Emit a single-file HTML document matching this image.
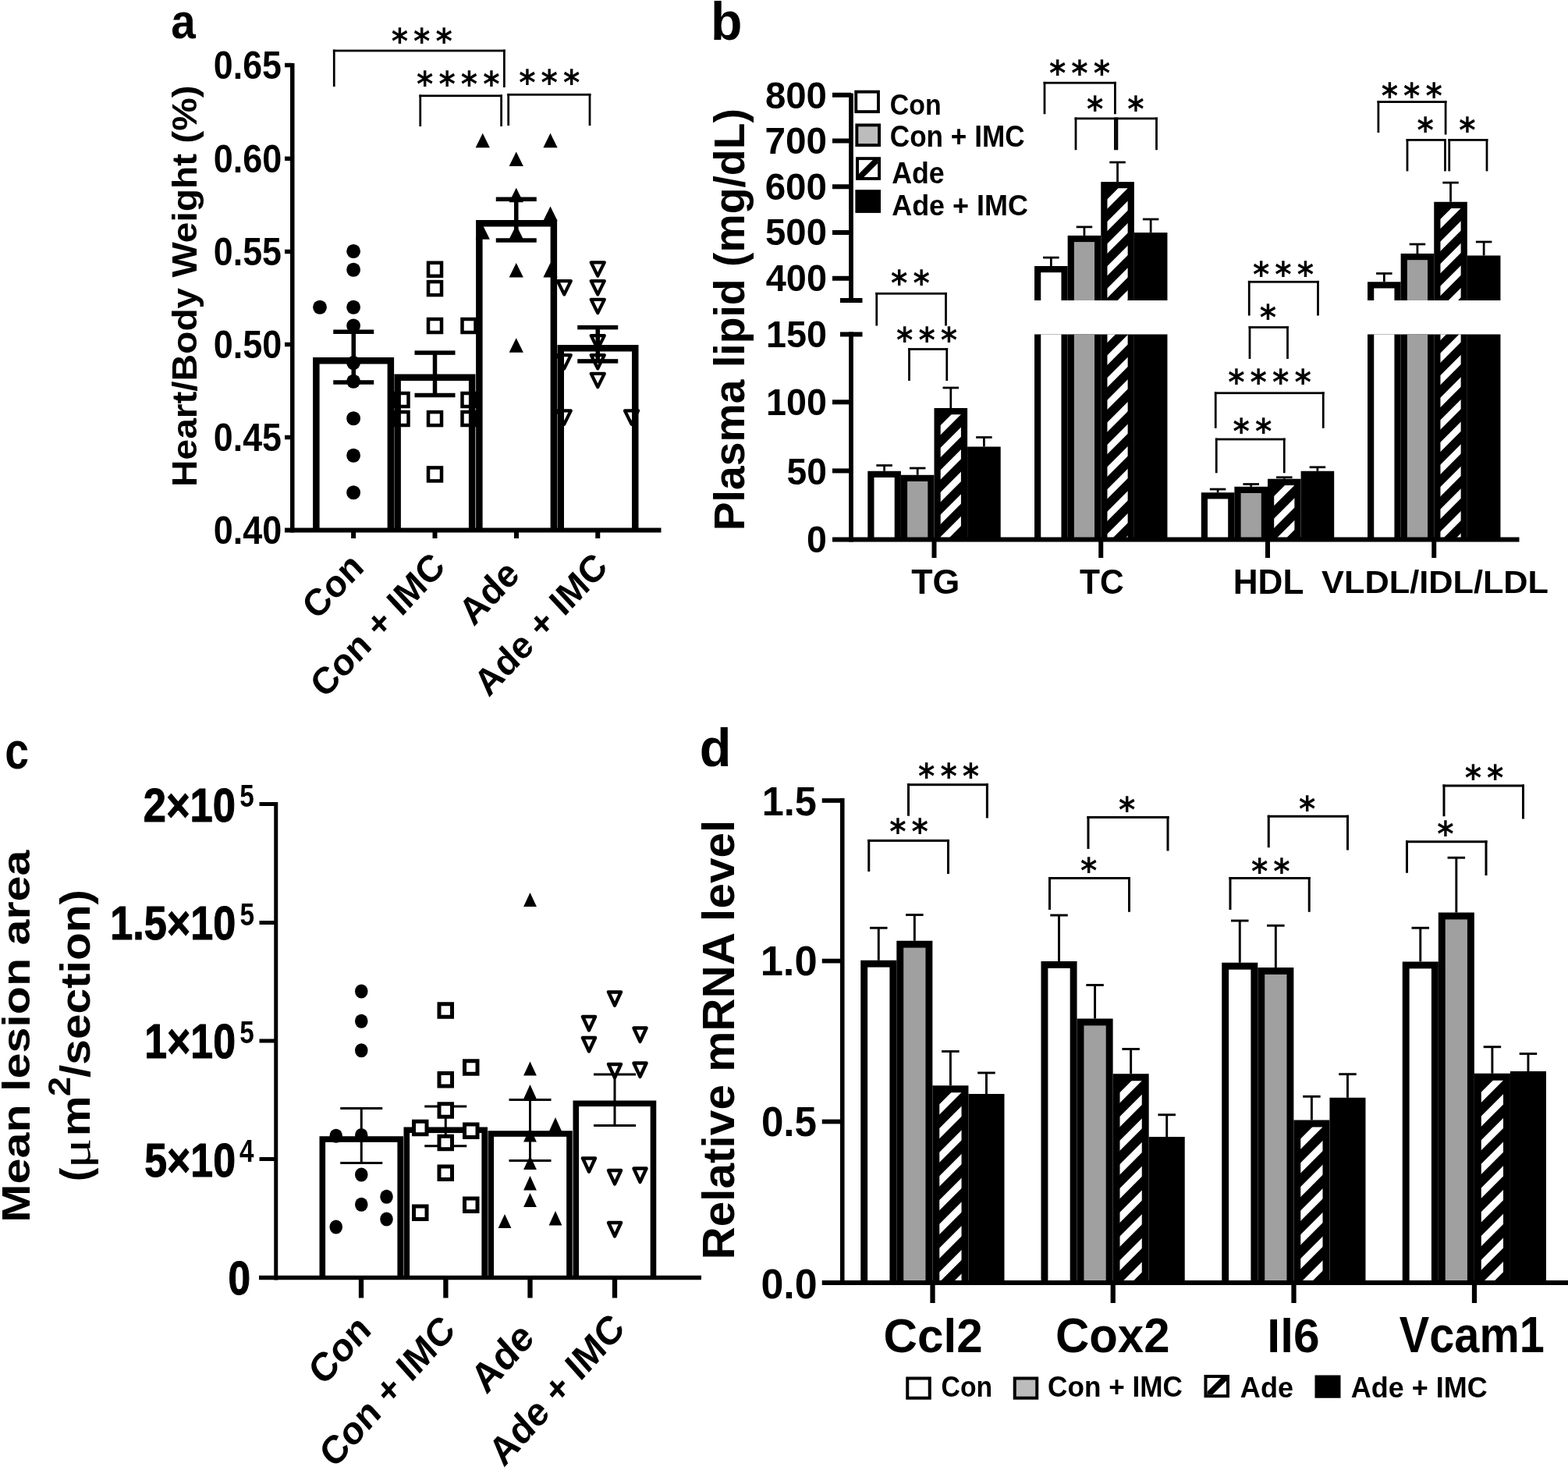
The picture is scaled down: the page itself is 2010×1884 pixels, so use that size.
<!DOCTYPE html>
<html><head><meta charset="utf-8"><title>Figure</title><style>html,body{margin:0;padding:0;background:#fff;overflow:hidden}svg{display:block}</style></head><body>
<svg width="2010" height="1884" viewBox="0 0 2010 1884">
<rect width="2010" height="1884" fill="#fff"/>
<defs><clipPath id="c0"><rect x="1205.7" y="531.2" width="26.2" height="160.3"/></clipPath><clipPath id="c1"><rect x="1419.45" y="241.3" width="26.2" height="143.7"/></clipPath><clipPath id="c2"><rect x="1419.45" y="428.5" width="26.2" height="263"/></clipPath><clipPath id="c3"><rect x="1633.2" y="621.95" width="26.2" height="69.55"/></clipPath><clipPath id="c4"><rect x="1846.45" y="266.95" width="26.2" height="118.05"/></clipPath><clipPath id="c5"><rect x="1846.45" y="428.5" width="26.2" height="263"/></clipPath><clipPath id="c6"><rect x="1101" y="205.1" width="24.1" height="21.9"/></clipPath><clipPath id="c7"><rect x="1204.27" y="1400.15" width="28.26" height="243.85"/></clipPath><clipPath id="c8"><rect x="1435.52" y="1385.15" width="28.26" height="258.85"/></clipPath><clipPath id="c9"><rect x="1667.27" y="1444.4" width="28.26" height="199.6"/></clipPath><clipPath id="c10"><rect x="1898.77" y="1384.65" width="28.26" height="259.35"/></clipPath><clipPath id="c11"><rect x="1547.5" y="1766" width="24.5" height="21.25"/></clipPath></defs>
<text transform="translate(219.23,48.95) scale(0.8942,1)" font-family="Liberation Sans" font-weight="bold" font-size="63.30">a</text>
<rect x="401.1" y="458" width="104" height="221.5" fill="#000"/>
<rect x="409.6" y="466.5" width="87" height="213" fill="#fff"/>
<rect x="505.4" y="479.5" width="104" height="200" fill="#000"/>
<rect x="513.9" y="488" width="87" height="191.5" fill="#fff"/>
<rect x="610.1" y="282" width="104" height="397.5" fill="#000"/>
<rect x="618.6" y="290.5" width="87" height="389" fill="#fff"/>
<rect x="714.5" y="442" width="104" height="237.5" fill="#000"/>
<rect x="723" y="450.5" width="87" height="229" fill="#fff"/>
<ellipse cx="453.1" cy="322" rx="8.9" ry="9.1"/>
<ellipse cx="453.1" cy="345.75" rx="8.9" ry="9.1"/>
<ellipse cx="453.1" cy="393.75" rx="8.9" ry="9.1"/>
<ellipse cx="453.1" cy="417.5" rx="8.9" ry="9.1"/>
<ellipse cx="453.1" cy="465" rx="8.9" ry="9.1"/>
<ellipse cx="453.1" cy="488.75" rx="8.9" ry="9.1"/>
<ellipse cx="453.1" cy="536.25" rx="8.9" ry="9.1"/>
<ellipse cx="453.1" cy="583.75" rx="8.9" ry="9.1"/>
<ellipse cx="453.1" cy="631.25" rx="8.9" ry="9.1"/>
<ellipse cx="410" cy="393.75" rx="8.9" ry="9.1"/>
<rect x="549" y="336.75" width="17" height="17" fill="none" stroke="#000" stroke-width="4.5"/>
<rect x="549" y="361.1" width="17" height="17" fill="none" stroke="#000" stroke-width="4.5"/>
<rect x="549" y="409" width="17" height="17" fill="none" stroke="#000" stroke-width="4.5"/>
<rect x="592.5" y="409" width="17" height="17" fill="none" stroke="#000" stroke-width="4.5"/>
<rect x="506.5" y="504" width="17" height="17" fill="none" stroke="#000" stroke-width="4.5"/>
<rect x="592.5" y="504" width="17" height="17" fill="none" stroke="#000" stroke-width="4.5"/>
<rect x="506.5" y="528" width="17" height="17" fill="none" stroke="#000" stroke-width="4.5"/>
<rect x="549" y="528.1" width="17" height="17" fill="none" stroke="#000" stroke-width="4.5"/>
<rect x="592.5" y="528" width="17" height="17" fill="none" stroke="#000" stroke-width="4.5"/>
<rect x="549" y="599.4" width="17" height="17" fill="none" stroke="#000" stroke-width="4.5"/>
<path d="M618.75 170.75L627.88 189.25L609.62 189.25Z"/>
<path d="M705.5 170.75L714.62 189.25L696.38 189.25Z"/>
<path d="M661.75 194.5L670.88 213L652.62 213Z"/>
<path d="M661.75 240.75L670.88 259.25L652.62 259.25Z"/>
<path d="M705.5 264.5L714.62 283L696.38 283Z"/>
<path d="M618.75 288.25L627.88 306.75L609.62 306.75Z"/>
<path d="M661.75 288.25L670.88 306.75L652.62 306.75Z"/>
<path d="M661.75 337L670.88 355.5L652.62 355.5Z"/>
<path d="M705.5 337L714.62 355.5L696.38 355.5Z"/>
<path d="M661.75 433.25L670.88 451.75L652.62 451.75Z"/>
<path d="M757.73 336.32L774.77 336.32L766.25 353.68Z" fill="none" stroke="#000" stroke-width="4.25" stroke-linejoin="round"/>
<path d="M757.73 360.07L774.77 360.07L766.25 377.43Z" fill="none" stroke="#000" stroke-width="4.25" stroke-linejoin="round"/>
<path d="M714.73 360.07L731.77 360.07L723.25 377.43Z" fill="none" stroke="#000" stroke-width="4.25" stroke-linejoin="round"/>
<path d="M757.73 383.82L774.77 383.82L766.25 401.18Z" fill="none" stroke="#000" stroke-width="4.25" stroke-linejoin="round"/>
<path d="M757.73 430.07L774.77 430.07L766.25 447.43Z" fill="none" stroke="#000" stroke-width="4.25" stroke-linejoin="round"/>
<path d="M714.73 455.07L731.77 455.07L723.25 472.43Z" fill="none" stroke="#000" stroke-width="4.25" stroke-linejoin="round"/>
<path d="M757.73 455.07L774.77 455.07L766.25 472.43Z" fill="none" stroke="#000" stroke-width="4.25" stroke-linejoin="round"/>
<path d="M757.73 478.82L774.77 478.82L766.25 496.18Z" fill="none" stroke="#000" stroke-width="4.25" stroke-linejoin="round"/>
<path d="M714.73 526.33L731.77 526.33L723.25 543.67Z" fill="none" stroke="#000" stroke-width="4.25" stroke-linejoin="round"/>
<path d="M800.98 526.33L818.02 526.33L809.5 543.67Z" fill="none" stroke="#000" stroke-width="4.25" stroke-linejoin="round"/>
<rect x="450.5" y="425.25" width="5.5" height="64.75" fill="#000"/>
<rect x="427.25" y="422.5" width="52" height="5.5" fill="#000"/>
<rect x="427.25" y="487.25" width="52" height="5.5" fill="#000"/>
<rect x="554.75" y="452.1" width="5.5" height="54.4" fill="#000"/>
<rect x="531.5" y="449.35" width="52" height="5.5" fill="#000"/>
<rect x="531.5" y="503.75" width="52" height="5.5" fill="#000"/>
<rect x="659" y="255.3" width="5.5" height="52.7" fill="#000"/>
<rect x="635.75" y="252.55" width="52" height="5.5" fill="#000"/>
<rect x="635.75" y="305.25" width="52" height="5.5" fill="#000"/>
<rect x="763.5" y="419.6" width="5.5" height="43.3" fill="#000"/>
<rect x="740.25" y="416.85" width="52" height="5.5" fill="#000"/>
<rect x="740.25" y="460.15" width="52" height="5.5" fill="#000"/>
<rect x="372" y="81" width="5.5" height="601.5" fill="#000"/>
<rect x="365" y="676.5" width="482.5" height="6" fill="#000"/>
<rect x="365" y="80.75" width="9.75" height="5.5" fill="#000"/>
<rect x="365" y="200.55" width="9.75" height="5.5" fill="#000"/>
<rect x="365" y="319.75" width="9.75" height="5.5" fill="#000"/>
<rect x="365" y="438.75" width="9.75" height="5.5" fill="#000"/>
<rect x="365" y="557.75" width="9.75" height="5.5" fill="#000"/>
<rect x="450.1" y="679.5" width="6" height="10.5" fill="#000"/>
<rect x="554.5" y="679.5" width="6" height="10.5" fill="#000"/>
<rect x="659" y="679.5" width="6" height="10.5" fill="#000"/>
<rect x="763.25" y="679.5" width="6" height="10.5" fill="#000"/>
<text transform="translate(273.86,100.66) scale(0.8951,1)" font-family="Liberation Sans" font-weight="bold" font-size="49.93">0.65</text>
<text transform="translate(273.84,220.66) scale(0.9011,1)" font-family="Liberation Sans" font-weight="bold" font-size="49.93">0.60</text>
<text transform="translate(273.86,339.86) scale(0.8951,1)" font-family="Liberation Sans" font-weight="bold" font-size="49.93">0.55</text>
<text transform="translate(273.84,458.96) scale(0.9011,1)" font-family="Liberation Sans" font-weight="bold" font-size="49.93">0.50</text>
<text transform="translate(273.86,577.96) scale(0.8951,1)" font-family="Liberation Sans" font-weight="bold" font-size="49.93">0.45</text>
<text transform="translate(273.84,697.16) scale(0.9011,1)" font-family="Liberation Sans" font-weight="bold" font-size="49.93">0.40</text>
<rect x="426.88" y="63.62" width="220.9" height="2.75" fill="#000"/>
<rect x="426.88" y="63.62" width="2.75" height="47.38" fill="#000"/>
<rect x="645.02" y="63.62" width="2.75" height="48.38" fill="#000"/>
<rect x="537.38" y="121.42" width="106.6" height="2.75" fill="#000"/>
<rect x="537.38" y="121.42" width="2.75" height="40.58" fill="#000"/>
<rect x="641.23" y="121.42" width="2.75" height="40.58" fill="#000"/>
<rect x="650.33" y="119.92" width="107.05" height="2.75" fill="#000"/>
<rect x="650.33" y="119.92" width="2.75" height="41.08" fill="#000"/>
<rect x="754.62" y="119.92" width="2.75" height="41.08" fill="#000"/>
<text transform="translate(501.73,67.71) scale(0.9212,1)" x="0 30.83 61.66" font-family="DejaVu Sans" font-weight="bold" font-size="44.32">***</text>
<text transform="translate(534.03,122.56) scale(0.9212,1)" x="0 30.83 61.66 92.48" font-family="DejaVu Sans" font-weight="bold" font-size="44.32">****</text>
<text transform="translate(665.23,121.46) scale(0.9212,1)" x="0 30.83 61.66" font-family="DejaVu Sans" font-weight="bold" font-size="44.32">***</text>
<text transform="translate(252.12,623.99) rotate(-90) scale(1.0780,1)" font-family="Liberation Sans" font-weight="bold" font-size="44.39">Heart/Body Weight (%)</text>
<text transform="translate(406.31,795.99) scale(1,1.0700) rotate(-45)" font-family="Liberation Sans" font-weight="bold" font-size="45.26">Con</text>
<text transform="translate(416.51,896.22) scale(1,1.0700) rotate(-45)" font-family="Liberation Sans" font-weight="bold" font-size="45.03">Con + IMC</text>
<text transform="translate(607.30,803.81) scale(1,1.0700) rotate(-45)" font-family="Liberation Sans" font-weight="bold" font-size="45.62">Ade</text>
<text transform="translate(626.61,894.47) scale(1,1.0700) rotate(-45)" font-family="Liberation Sans" font-weight="bold" font-size="45.00">Ade + IMC</text>
<text transform="translate(911.12,51.41) scale(0.9792,1)" font-family="Liberation Sans" font-weight="bold" font-size="67.58">b</text>
<rect x="1112.3" y="603.75" width="42.6" height="87.75" fill="#000"/>
<rect x="1120.5" y="611.95" width="26.2" height="79.55" fill="#fff"/>
<rect x="1132.22" y="596.5" width="2.75" height="7.25" fill="#000"/>
<rect x="1123.35" y="595.12" width="20.5" height="2.75" fill="#000"/>
<rect x="1154.9" y="608.75" width="42.6" height="82.75" fill="#000"/>
<rect x="1163.1" y="616.95" width="26.2" height="74.55" fill="#a0a0a0"/>
<rect x="1174.82" y="600" width="2.75" height="8.75" fill="#000"/>
<rect x="1165.95" y="598.62" width="20.5" height="2.75" fill="#000"/>
<rect x="1197.5" y="523" width="42.6" height="168.5" fill="#000"/>
<path clip-path="url(#c0)" fill="#fff" d="M1204.7 546.1L1204.7 558.4L1232.9 530.2L1232.9 517.9ZM1204.7 574.7L1204.7 587L1232.9 558.8L1232.9 546.5ZM1204.7 603.3L1204.7 615.6L1232.9 587.4L1232.9 575.1ZM1204.7 631.9L1204.7 644.2L1232.9 616L1232.9 603.7ZM1204.7 660.5L1204.7 672.8L1232.9 644.6L1232.9 632.3ZM1204.7 689.1L1204.7 701.4L1232.9 673.2L1232.9 660.9ZM1204.7 717.7L1204.7 730L1232.9 701.8L1232.9 689.5Z"/>
<rect x="1217.42" y="497" width="2.75" height="26" fill="#000"/>
<rect x="1208.55" y="495.62" width="20.5" height="2.75" fill="#000"/>
<rect x="1240.1" y="572.5" width="42.6" height="119" fill="#000"/>
<rect x="1260.02" y="560.5" width="2.75" height="12" fill="#000"/>
<rect x="1251.15" y="559.12" width="20.5" height="2.75" fill="#000"/>
<rect x="1326.05" y="341" width="42.6" height="44" fill="#000"/>
<rect x="1334.25" y="349.2" width="26.2" height="35.8" fill="#fff"/>
<rect x="1326.05" y="428.5" width="42.6" height="263" fill="#000"/>
<rect x="1334.25" y="428.5" width="26.2" height="263" fill="#fff"/>
<rect x="1345.97" y="330.1" width="2.75" height="10.9" fill="#000"/>
<rect x="1337.1" y="328.73" width="20.5" height="2.75" fill="#000"/>
<rect x="1368.65" y="301.9" width="42.6" height="83.1" fill="#000"/>
<rect x="1376.85" y="310.1" width="26.2" height="74.9" fill="#a0a0a0"/>
<rect x="1368.65" y="428.5" width="42.6" height="263" fill="#000"/>
<rect x="1376.85" y="428.5" width="26.2" height="263" fill="#a0a0a0"/>
<rect x="1388.57" y="290.9" width="2.75" height="11" fill="#000"/>
<rect x="1379.7" y="289.52" width="20.5" height="2.75" fill="#000"/>
<rect x="1411.25" y="233.1" width="42.6" height="151.9" fill="#000"/>
<path clip-path="url(#c1)" fill="#fff" d="M1418.45 256.2L1418.45 268.5L1446.65 240.3L1446.65 228ZM1418.45 284.8L1418.45 297.1L1446.65 268.9L1446.65 256.6ZM1418.45 313.4L1418.45 325.7L1446.65 297.5L1446.65 285.2ZM1418.45 342L1418.45 354.3L1446.65 326.1L1446.65 313.8ZM1418.45 370.6L1418.45 382.9L1446.65 354.7L1446.65 342.4ZM1418.45 399.2L1418.45 411.5L1446.65 383.3L1446.65 371Z"/>
<rect x="1411.25" y="428.5" width="42.6" height="263" fill="#000"/>
<path clip-path="url(#c2)" fill="#fff" d="M1418.45 427.8L1418.45 440.1L1446.65 411.9L1446.65 399.6ZM1418.45 456.4L1418.45 468.7L1446.65 440.5L1446.65 428.2ZM1418.45 485L1418.45 497.3L1446.65 469.1L1446.65 456.8ZM1418.45 513.6L1418.45 525.9L1446.65 497.7L1446.65 485.4ZM1418.45 542.2L1418.45 554.5L1446.65 526.3L1446.65 514ZM1418.45 570.8L1418.45 583.1L1446.65 554.9L1446.65 542.6ZM1418.45 599.4L1418.45 611.7L1446.65 583.5L1446.65 571.2ZM1418.45 628L1418.45 640.3L1446.65 612.1L1446.65 599.8ZM1418.45 656.6L1418.45 668.9L1446.65 640.7L1446.65 628.4ZM1418.45 685.2L1418.45 697.5L1446.65 669.3L1446.65 657ZM1418.45 713.8L1418.45 726.1L1446.65 697.9L1446.65 685.6Z"/>
<rect x="1431.17" y="208" width="2.75" height="25.1" fill="#000"/>
<rect x="1422.3" y="206.62" width="20.5" height="2.75" fill="#000"/>
<rect x="1453.85" y="298.1" width="42.6" height="86.9" fill="#000"/>
<rect x="1453.85" y="428.5" width="42.6" height="263" fill="#000"/>
<rect x="1473.77" y="281" width="2.75" height="17.1" fill="#000"/>
<rect x="1464.9" y="279.62" width="20.5" height="2.75" fill="#000"/>
<rect x="1539.8" y="631.25" width="42.6" height="60.25" fill="#000"/>
<rect x="1548" y="639.45" width="26.2" height="52.05" fill="#fff"/>
<rect x="1559.72" y="627" width="2.75" height="4.25" fill="#000"/>
<rect x="1550.85" y="625.62" width="20.5" height="2.75" fill="#000"/>
<rect x="1582.4" y="623.75" width="42.6" height="67.75" fill="#000"/>
<rect x="1590.6" y="631.95" width="26.2" height="59.55" fill="#a0a0a0"/>
<rect x="1602.32" y="620.5" width="2.75" height="3.25" fill="#000"/>
<rect x="1593.45" y="619.12" width="20.5" height="2.75" fill="#000"/>
<rect x="1625" y="613.75" width="42.6" height="77.75" fill="#000"/>
<path clip-path="url(#c3)" fill="#fff" d="M1632.2 636.85L1632.2 649.15L1660.4 620.95L1660.4 608.65ZM1632.2 665.45L1632.2 677.75L1660.4 649.55L1660.4 637.25ZM1632.2 694.05L1632.2 706.35L1660.4 678.15L1660.4 665.85Z"/>
<rect x="1644.92" y="611.75" width="2.75" height="2" fill="#000"/>
<rect x="1636.05" y="610.38" width="20.5" height="2.75" fill="#000"/>
<rect x="1667.6" y="603.75" width="42.6" height="87.75" fill="#000"/>
<rect x="1687.52" y="598.75" width="2.75" height="5" fill="#000"/>
<rect x="1678.65" y="597.38" width="20.5" height="2.75" fill="#000"/>
<rect x="1753.05" y="361.25" width="42.6" height="23.75" fill="#000"/>
<rect x="1761.25" y="369.45" width="26.2" height="15.55" fill="#fff"/>
<rect x="1753.05" y="428.5" width="42.6" height="263" fill="#000"/>
<rect x="1761.25" y="428.5" width="26.2" height="263" fill="#fff"/>
<rect x="1772.97" y="350.5" width="2.75" height="10.75" fill="#000"/>
<rect x="1764.1" y="349.12" width="20.5" height="2.75" fill="#000"/>
<rect x="1795.65" y="325" width="42.6" height="60" fill="#000"/>
<rect x="1803.85" y="333.2" width="26.2" height="51.8" fill="#a0a0a0"/>
<rect x="1795.65" y="428.5" width="42.6" height="263" fill="#000"/>
<rect x="1803.85" y="428.5" width="26.2" height="263" fill="#a0a0a0"/>
<rect x="1815.57" y="313" width="2.75" height="12" fill="#000"/>
<rect x="1806.7" y="311.62" width="20.5" height="2.75" fill="#000"/>
<rect x="1838.25" y="258.75" width="42.6" height="126.25" fill="#000"/>
<path clip-path="url(#c4)" fill="#fff" d="M1845.45 281.85L1845.45 294.15L1873.65 265.95L1873.65 253.65ZM1845.45 310.45L1845.45 322.75L1873.65 294.55L1873.65 282.25ZM1845.45 339.05L1845.45 351.35L1873.65 323.15L1873.65 310.85ZM1845.45 367.65L1845.45 379.95L1873.65 351.75L1873.65 339.45ZM1845.45 396.25L1845.45 408.55L1873.65 380.35L1873.65 368.05Z"/>
<rect x="1838.25" y="428.5" width="42.6" height="263" fill="#000"/>
<path clip-path="url(#c5)" fill="#fff" d="M1845.45 424.85L1845.45 437.15L1873.65 408.95L1873.65 396.65ZM1845.45 453.45L1845.45 465.75L1873.65 437.55L1873.65 425.25ZM1845.45 482.05L1845.45 494.35L1873.65 466.15L1873.65 453.85ZM1845.45 510.65L1845.45 522.95L1873.65 494.75L1873.65 482.45ZM1845.45 539.25L1845.45 551.55L1873.65 523.35L1873.65 511.05ZM1845.45 567.85L1845.45 580.15L1873.65 551.95L1873.65 539.65ZM1845.45 596.45L1845.45 608.75L1873.65 580.55L1873.65 568.25ZM1845.45 625.05L1845.45 637.35L1873.65 609.15L1873.65 596.85ZM1845.45 653.65L1845.45 665.95L1873.65 637.75L1873.65 625.45ZM1845.45 682.25L1845.45 694.55L1873.65 666.35L1873.65 654.05ZM1845.45 710.85L1845.45 723.15L1873.65 694.95L1873.65 682.65Z"/>
<rect x="1858.17" y="234.1" width="2.75" height="24.65" fill="#000"/>
<rect x="1849.3" y="232.72" width="20.5" height="2.75" fill="#000"/>
<rect x="1880.85" y="327.5" width="42.6" height="57.5" fill="#000"/>
<rect x="1880.85" y="428.5" width="42.6" height="263" fill="#000"/>
<rect x="1900.77" y="310" width="2.75" height="17.5" fill="#000"/>
<rect x="1891.9" y="308.62" width="20.5" height="2.75" fill="#000"/>
<rect x="1088.12" y="119.5" width="5.75" height="268.5" fill="#000"/>
<rect x="1077" y="382" width="28.5" height="6" fill="#000"/>
<rect x="1088.12" y="425.5" width="5.75" height="269" fill="#000"/>
<rect x="1077" y="425.5" width="28.5" height="6" fill="#000"/>
<rect x="1067" y="688.5" width="880.5" height="6" fill="#000"/>
<rect x="1067" y="118.75" width="24" height="6" fill="#000"/>
<rect x="1067" y="177.5" width="24" height="6" fill="#000"/>
<rect x="1067" y="236.25" width="24" height="6" fill="#000"/>
<rect x="1067" y="295" width="24" height="6" fill="#000"/>
<rect x="1067" y="353.75" width="24" height="6" fill="#000"/>
<rect x="1067" y="512.33" width="24" height="6" fill="#000"/>
<rect x="1067" y="600.41" width="24" height="6" fill="#000"/>
<rect x="1194.5" y="691.5" width="6" height="23.5" fill="#000"/>
<rect x="1408.25" y="691.5" width="6" height="23.5" fill="#000"/>
<rect x="1622" y="691.5" width="6" height="23.5" fill="#000"/>
<rect x="1835.25" y="691.5" width="6" height="23.5" fill="#000"/>
<text transform="translate(980.90,138.52) scale(0.9716,1)" font-family="Liberation Sans" font-weight="bold" font-size="48.79">800</text>
<text transform="translate(980.41,196.77) scale(0.9778,1)" font-family="Liberation Sans" font-weight="bold" font-size="48.79">700</text>
<text transform="translate(980.66,255.52) scale(0.9747,1)" font-family="Liberation Sans" font-weight="bold" font-size="48.79">600</text>
<text transform="translate(981.02,314.27) scale(0.9701,1)" font-family="Liberation Sans" font-weight="bold" font-size="48.79">500</text>
<text transform="translate(981.74,373.02) scale(0.9611,1)" font-family="Liberation Sans" font-weight="bold" font-size="48.79">400</text>
<text transform="translate(982.02,444.77) scale(0.9575,1)" font-family="Liberation Sans" font-weight="bold" font-size="48.79">150</text>
<text transform="translate(982.02,532.27) scale(0.9575,1)" font-family="Liberation Sans" font-weight="bold" font-size="48.79">100</text>
<text transform="translate(1008.55,620.52) scale(0.9482,1)" font-family="Liberation Sans" font-weight="bold" font-size="48.79">50</text>
<text transform="translate(1034.08,708.27) scale(0.9542,1)" font-family="Liberation Sans" font-weight="bold" font-size="48.79">0</text>
<text transform="translate(1168.25,760.86) scale(1.0098,1)" font-family="Liberation Sans" font-weight="bold" font-size="44.33">TG</text>
<text transform="translate(1384.02,760.86) scale(0.9600,1)" font-family="Liberation Sans" font-weight="bold" font-size="44.33">TC</text>
<text transform="translate(1580.72,760.56) scale(0.9908,1)" font-family="Liberation Sans" font-weight="bold" font-size="44.53">HDL</text>
<text transform="translate(1694.12,759.73) scale(1.0541,1)" font-family="Liberation Sans" font-weight="bold" font-size="41.08">VLDL/IDL/LDL</text>
<text transform="translate(953.81,680.31) rotate(-90)" font-family="Liberation Sans" font-weight="bold" font-size="55.35">Plasma lipid (mg/dL)</text>
<rect x="1095.3" y="115.7" width="32.6" height="29.4" fill="#000"/>
<rect x="1099.2" y="119.6" width="24.8" height="21.6" fill="#fff"/>
<rect x="1096.4" y="158.4" width="32.6" height="29.6" fill="#000"/>
<rect x="1100.3" y="162.3" width="24.8" height="21.8" fill="#bcbcbc"/>
<rect x="1097.1" y="201.2" width="31.9" height="29.7" fill="#000"/>
<rect x="1101" y="205.1" width="24.1" height="21.9" fill="#fff"/>
<line clip-path="url(#c6)" x1="1095" y1="234.1" x2="1131.1" y2="198" stroke="#000" stroke-width="7.5"/>
<rect x="1096.4" y="243.2" width="32.6" height="29.7" fill="#000"/>
<text transform="translate(1140.80,147.47) scale(0.9042,1)" font-family="Liberation Sans" font-weight="bold" font-size="37.45">Con</text>
<text transform="translate(1140.75,188.36) scale(0.9145,1)" font-family="Liberation Sans" font-weight="bold" font-size="38.44">Con + IMC</text>
<text transform="translate(1143.16,234.86) scale(0.9263,1)" font-family="Liberation Sans" font-weight="bold" font-size="38.63">Ade</text>
<text transform="translate(1143.16,275.67) scale(0.9545,1)" font-family="Liberation Sans" font-weight="bold" font-size="37.68">Ade + IMC</text>
<rect x="1122.38" y="374.88" width="91.5" height="2.75" fill="#000"/>
<rect x="1122.38" y="374.88" width="2.75" height="42.62" fill="#000"/>
<rect x="1211.12" y="374.88" width="2.75" height="42.62" fill="#000"/>
<text transform="translate(1142.03,378.41) scale(0.9212,1)" x="0 30.83" font-family="DejaVu Sans" font-weight="bold" font-size="44.32">**</text>
<rect x="1164.12" y="446.12" width="51" height="2.75" fill="#000"/>
<rect x="1164.12" y="446.12" width="2.75" height="41.88" fill="#000"/>
<rect x="1212.38" y="446.12" width="2.75" height="41.88" fill="#000"/>
<text transform="translate(1149.03,451.01) scale(0.9212,1)" x="0 30.83 61.66" font-family="DejaVu Sans" font-weight="bold" font-size="44.32">***</text>
<rect x="1337.62" y="104.83" width="93.15" height="2.75" fill="#000"/>
<rect x="1337.62" y="104.83" width="2.75" height="41.42" fill="#000"/>
<rect x="1428.03" y="104.83" width="2.75" height="41.42" fill="#000"/>
<text transform="translate(1344.93,108.86) scale(0.9212,1)" x="0 30.83 61.66" font-family="DejaVu Sans" font-weight="bold" font-size="44.32">***</text>
<rect x="1377.62" y="150.53" width="53.15" height="2.75" fill="#000"/>
<rect x="1377.62" y="150.53" width="2.75" height="41.72" fill="#000"/>
<rect x="1428.03" y="150.53" width="2.75" height="41.72" fill="#000"/>
<text transform="translate(1393.08,154.51) scale(0.9212,1)" x="0" font-family="DejaVu Sans" font-weight="bold" font-size="44.32">*</text>
<rect x="1430.53" y="150.53" width="53.35" height="2.75" fill="#000"/>
<rect x="1430.53" y="150.53" width="2.75" height="41.72" fill="#000"/>
<rect x="1481.12" y="150.53" width="2.75" height="41.72" fill="#000"/>
<text transform="translate(1445.33,154.51) scale(0.9212,1)" x="0" font-family="DejaVu Sans" font-weight="bold" font-size="44.32">*</text>
<rect x="1599.88" y="359.88" width="91" height="2.75" fill="#000"/>
<rect x="1599.88" y="359.88" width="2.75" height="44.62" fill="#000"/>
<rect x="1688.12" y="359.88" width="2.75" height="44.62" fill="#000"/>
<text transform="translate(1605.93,367.36) scale(0.9212,1)" x="0 30.83 61.66" font-family="DejaVu Sans" font-weight="bold" font-size="44.32">***</text>
<rect x="1600.62" y="418.12" width="51.25" height="2.75" fill="#000"/>
<rect x="1600.62" y="418.12" width="2.75" height="41.88" fill="#000"/>
<rect x="1649.12" y="418.12" width="2.75" height="41.88" fill="#000"/>
<text transform="translate(1614.83,422.01) scale(0.9212,1)" x="0" font-family="DejaVu Sans" font-weight="bold" font-size="44.32">*</text>
<rect x="1556.88" y="502.38" width="140.75" height="2.75" fill="#000"/>
<rect x="1556.88" y="502.38" width="2.75" height="46.38" fill="#000"/>
<rect x="1694.88" y="502.38" width="2.75" height="46.38" fill="#000"/>
<text transform="translate(1574.23,505.11) scale(0.9212,1)" x="0 30.83 61.66 92.48" font-family="DejaVu Sans" font-weight="bold" font-size="44.32">****</text>
<rect x="1557.88" y="561.62" width="89.75" height="2.75" fill="#000"/>
<rect x="1557.88" y="561.62" width="2.75" height="44.62" fill="#000"/>
<rect x="1644.88" y="561.62" width="2.75" height="44.62" fill="#000"/>
<text transform="translate(1580.53,568.21) scale(0.9212,1)" x="0 30.83" font-family="DejaVu Sans" font-weight="bold" font-size="44.32">**</text>
<rect x="1765.53" y="129.22" width="88.95" height="2.75" fill="#000"/>
<rect x="1765.53" y="129.22" width="2.75" height="40.78" fill="#000"/>
<rect x="1851.72" y="129.22" width="2.75" height="43.28" fill="#000"/>
<text transform="translate(1770.63,137.91) scale(0.9212,1)" x="0 30.83 61.66" font-family="DejaVu Sans" font-weight="bold" font-size="44.32">***</text>
<rect x="1802.62" y="178.03" width="51.25" height="2.75" fill="#000"/>
<rect x="1802.62" y="178.03" width="2.75" height="41.38" fill="#000"/>
<rect x="1851.12" y="178.03" width="2.75" height="41.38" fill="#000"/>
<text transform="translate(1816.53,181.71) scale(0.9212,1)" x="0" font-family="DejaVu Sans" font-weight="bold" font-size="44.32">*</text>
<rect x="1856.38" y="178.03" width="51" height="2.75" fill="#000"/>
<rect x="1856.38" y="178.03" width="2.75" height="41.38" fill="#000"/>
<rect x="1904.62" y="178.03" width="2.75" height="41.38" fill="#000"/>
<text transform="translate(1870.33,181.71) scale(0.9212,1)" x="0" font-family="DejaVu Sans" font-weight="bold" font-size="44.32">*</text>
<text transform="translate(6.27,984.92) scale(0.8289,1)" font-family="Liberation Sans" font-weight="bold" font-size="66.79">c</text>
<rect x="409.5" y="1456.25" width="107.5" height="181.25" fill="#000"/>
<rect x="417.1" y="1463.85" width="92.3" height="173.65" fill="#fff"/>
<rect x="517.5" y="1444.5" width="107.5" height="193" fill="#000"/>
<rect x="525.1" y="1452.1" width="92.3" height="185.4" fill="#fff"/>
<rect x="625.5" y="1449.25" width="108.25" height="188.25" fill="#000"/>
<rect x="633.1" y="1456.85" width="93.05" height="180.65" fill="#fff"/>
<rect x="734.5" y="1410.5" width="106.75" height="227" fill="#000"/>
<rect x="742.1" y="1418.1" width="91.55" height="219.4" fill="#fff"/>
<rect x="461.75" y="1420.5" width="3" height="70" fill="#000"/>
<rect x="436.25" y="1419" width="54" height="3" fill="#000"/>
<rect x="436.25" y="1489" width="54" height="3" fill="#000"/>
<rect x="569.75" y="1418" width="3" height="50.75" fill="#000"/>
<rect x="544.25" y="1416.5" width="54" height="3" fill="#000"/>
<rect x="544.25" y="1467.25" width="54" height="3" fill="#000"/>
<rect x="678" y="1409.5" width="3" height="78" fill="#000"/>
<rect x="652.5" y="1408" width="54" height="3" fill="#000"/>
<rect x="652.5" y="1486" width="54" height="3" fill="#000"/>
<rect x="786.5" y="1377" width="3" height="65.5" fill="#000"/>
<rect x="761" y="1375.5" width="54" height="3" fill="#000"/>
<rect x="761" y="1441" width="54" height="3" fill="#000"/>
<ellipse cx="463.25" cy="1270.5" rx="8.25" ry="9.1"/>
<ellipse cx="463.25" cy="1308.75" rx="8.25" ry="9.1"/>
<ellipse cx="463.25" cy="1346.25" rx="8.25" ry="9.1"/>
<ellipse cx="430.75" cy="1455.75" rx="8.25" ry="9.1"/>
<ellipse cx="463.25" cy="1455" rx="8.25" ry="9.1"/>
<ellipse cx="463.25" cy="1505.5" rx="8.25" ry="9.1"/>
<ellipse cx="495.5" cy="1533.75" rx="8.25" ry="9.1"/>
<ellipse cx="463.25" cy="1543.75" rx="8.25" ry="9.1"/>
<ellipse cx="495.5" cy="1562.5" rx="8.25" ry="9.1"/>
<ellipse cx="430.75" cy="1572.5" rx="8.25" ry="9.1"/>
<rect x="563" y="1286.75" width="16.5" height="16.5" fill="#fff" stroke="#000" stroke-width="5"/>
<rect x="595.5" y="1359.75" width="16.5" height="16.5" fill="#fff" stroke="#000" stroke-width="5"/>
<rect x="563" y="1375.5" width="16.5" height="16.5" fill="#fff" stroke="#000" stroke-width="5"/>
<rect x="563" y="1414.75" width="16.5" height="16.5" fill="#fff" stroke="#000" stroke-width="5"/>
<rect x="530.5" y="1437.25" width="16.5" height="16.5" fill="#fff" stroke="#000" stroke-width="5"/>
<rect x="595.5" y="1441" width="16.5" height="16.5" fill="#fff" stroke="#000" stroke-width="5"/>
<rect x="563" y="1456.25" width="16.5" height="16.5" fill="#fff" stroke="#000" stroke-width="5"/>
<rect x="563" y="1495" width="16.5" height="16.5" fill="#fff" stroke="#000" stroke-width="5"/>
<rect x="530.5" y="1546" width="16.5" height="16.5" fill="#fff" stroke="#000" stroke-width="5"/>
<rect x="595.5" y="1536" width="16.5" height="16.5" fill="#fff" stroke="#000" stroke-width="5"/>
<path d="M679.5 1143.88L687.88 1162.12L671.12 1162.12Z"/>
<path d="M679.5 1360.38L687.88 1378.62L671.12 1378.62Z"/>
<path d="M679.5 1390.12L687.88 1408.38L671.12 1408.38Z"/>
<path d="M712 1432.12L720.38 1450.38L703.62 1450.38Z"/>
<path d="M679.5 1445.12L687.88 1463.38L671.12 1463.38Z"/>
<path d="M679.5 1480.88L687.88 1499.12L671.12 1499.12Z"/>
<path d="M679.5 1507.12L687.88 1525.38L671.12 1525.38Z"/>
<path d="M679.5 1528.88L687.88 1547.12L671.12 1547.12Z"/>
<path d="M647 1555.88L655.38 1574.12L638.62 1574.12Z"/>
<path d="M712 1552.12L720.38 1570.38L703.62 1570.38Z"/>
<path d="M780 1271.38L796 1271.38L788 1288.62Z" fill="#fff" stroke="#000" stroke-width="4.5" stroke-linejoin="round"/>
<path d="M747 1303.12L763 1303.12L755 1320.38Z" fill="#fff" stroke="#000" stroke-width="4.5" stroke-linejoin="round"/>
<path d="M812.5 1317.62L828.5 1317.62L820.5 1334.88Z" fill="#fff" stroke="#000" stroke-width="4.5" stroke-linejoin="round"/>
<path d="M747 1330.12L763 1330.12L755 1347.38Z" fill="#fff" stroke="#000" stroke-width="4.5" stroke-linejoin="round"/>
<path d="M780 1363.88L796 1363.88L788 1381.12Z" fill="#fff" stroke="#000" stroke-width="4.5" stroke-linejoin="round"/>
<path d="M812.5 1362.62L828.5 1362.62L820.5 1379.88Z" fill="#fff" stroke="#000" stroke-width="4.5" stroke-linejoin="round"/>
<path d="M747 1484.38L763 1484.38L755 1501.62Z" fill="#fff" stroke="#000" stroke-width="4.5" stroke-linejoin="round"/>
<path d="M780 1500.12L796 1500.12L788 1517.38Z" fill="#fff" stroke="#000" stroke-width="4.5" stroke-linejoin="round"/>
<path d="M812.5 1497.62L828.5 1497.62L820.5 1514.88Z" fill="#fff" stroke="#000" stroke-width="4.5" stroke-linejoin="round"/>
<path d="M780 1567.12L796 1567.12L788 1584.38Z" fill="#fff" stroke="#000" stroke-width="4.5" stroke-linejoin="round"/>
<rect x="351.25" y="1028" width="5" height="612.5" fill="#000"/>
<rect x="332" y="1634.75" width="567" height="5.5" fill="#000"/>
<rect x="332.5" y="1028" width="21.25" height="5" fill="#000"/>
<rect x="332.5" y="1180" width="21.25" height="5" fill="#000"/>
<rect x="332.5" y="1331.5" width="21.25" height="5" fill="#000"/>
<rect x="332.5" y="1483" width="21.25" height="5" fill="#000"/>
<rect x="459.85" y="1637.5" width="6.3" height="26" fill="#000"/>
<rect x="568.25" y="1637.5" width="6.3" height="26" fill="#000"/>
<rect x="676.35" y="1637.5" width="6.3" height="26" fill="#000"/>
<rect x="784.85" y="1637.5" width="6.3" height="26" fill="#000"/>
<text transform="translate(183.70,1052.56) scale(0.8537,1)" font-family="Liberation Sans" font-weight="bold" font-size="61.56" stroke="#000" stroke-width="1.1" stroke-linejoin="round">2×10</text>
<text transform="translate(307.36,1034.24) scale(0.8100,1)" font-family="Liberation Sans" font-weight="bold" font-size="41.15">5</text>
<text transform="translate(141.17,1204.26) scale(0.8516,1)" font-family="Liberation Sans" font-weight="bold" font-size="61.28" stroke="#000" stroke-width="1.1" stroke-linejoin="round">1.5×10</text>
<text transform="translate(307.45,1185.84) scale(0.8121,1)" font-family="Liberation Sans" font-weight="bold" font-size="41.29">5</text>
<text transform="translate(185.19,1356.16) scale(0.8350,1)" font-family="Liberation Sans" font-weight="bold" font-size="62.13" stroke="#000" stroke-width="1.1" stroke-linejoin="round">1×10</text>
<text transform="translate(307.36,1337.45) scale(0.8244,1)" font-family="Liberation Sans" font-weight="bold" font-size="40.43">5</text>
<text transform="translate(185.18,1507.97) scale(0.8506,1)" font-family="Liberation Sans" font-weight="bold" font-size="60.99" stroke="#000" stroke-width="1.1" stroke-linejoin="round">5×10</text>
<text transform="translate(307.06,1488.85) scale(0.8190,1)" font-family="Liberation Sans" font-weight="bold" font-size="40.58">4</text>
<text transform="translate(292.38,1659.47) scale(0.8514,1)" font-family="Liberation Sans" font-weight="bold" font-size="60.28" stroke="#000" stroke-width="1.1" stroke-linejoin="round">0</text>
<text transform="translate(38.36,1566.77) rotate(-90) scale(1.1757,1)" font-family="Liberation Sans" font-weight="bold" font-size="50.38">Mean lesion area</text>
<text transform="translate(114.99,1514.21) rotate(-90) scale(1.0013,1)" font-family="Liberation Sans" font-weight="bold" font-size="52.90">(</text>
<text transform="translate(114.82,1497.85) rotate(-90) scale(1.3753,1)" font-family="Liberation Serif" font-weight="normal" font-size="53.23">μ</text>
<text transform="translate(115.17,1456.37) rotate(-90) scale(1.1083,1)" font-family="Liberation Sans" font-weight="bold" font-size="52.71">m</text>
<text transform="translate(90.35,1404.93) rotate(-90) scale(1.0980,1)" font-family="Liberation Sans" font-weight="bold" font-size="41.01">2</text>
<text transform="translate(115.09,1380.96) rotate(-90) scale(1.1080,1)" font-family="Liberation Sans" font-weight="bold" font-size="52.90">/section)</text>
<text transform="translate(414.82,1777.41) scale(1,1.1200) rotate(-45)" font-family="Liberation Sans" font-weight="bold" font-size="45.95">Con</text>
<text transform="translate(428.44,1883.36) scale(1,1.1200) rotate(-45)" font-family="Liberation Sans" font-weight="bold" font-size="45.26">Con + IMC</text>
<text transform="translate(623.50,1788.15) scale(1,1.1200) rotate(-45)" font-family="Liberation Sans" font-weight="bold" font-size="47.52">Ade</text>
<text transform="translate(645.68,1881.42) scale(1,1.1200) rotate(-45)" font-family="Liberation Sans" font-weight="bold" font-size="45.80">Ade + IMC</text>
<text transform="translate(896.75,981.90) scale(0.9767,1)" font-family="Liberation Sans" font-weight="bold" font-size="68.26">d</text>
<rect x="1103.25" y="1230.75" width="46.06" height="413.25" fill="#000"/>
<rect x="1112.15" y="1239.65" width="28.26" height="404.35" fill="#fff"/>
<rect x="1124.83" y="1189.25" width="2.9" height="41.5" fill="#000"/>
<rect x="1115.03" y="1187.8" width="22.5" height="2.9" fill="#000"/>
<rect x="1149.31" y="1205.75" width="46.06" height="438.25" fill="#000"/>
<rect x="1158.21" y="1214.65" width="28.26" height="429.35" fill="#a0a0a0"/>
<rect x="1170.89" y="1172.5" width="2.9" height="33.25" fill="#000"/>
<rect x="1161.09" y="1171.05" width="22.5" height="2.9" fill="#000"/>
<rect x="1195.37" y="1391.25" width="46.06" height="252.75" fill="#000"/>
<path clip-path="url(#c7)" fill="#fff" d="M1203.27 1416.21L1203.27 1429.41L1233.53 1399.15L1233.53 1385.95ZM1203.27 1446.91L1203.27 1460.11L1233.53 1429.85L1233.53 1416.65ZM1203.27 1477.61L1203.27 1490.81L1233.53 1460.55L1233.53 1447.35ZM1203.27 1508.31L1203.27 1521.51L1233.53 1491.25L1233.53 1478.05ZM1203.27 1539.01L1203.27 1552.21L1233.53 1521.95L1233.53 1508.75ZM1203.27 1569.71L1203.27 1582.91L1233.53 1552.65L1233.53 1539.45ZM1203.27 1600.41L1203.27 1613.61L1233.53 1583.35L1233.53 1570.15ZM1203.27 1631.11L1203.27 1644.31L1233.53 1614.05L1233.53 1600.85ZM1203.27 1661.81L1203.27 1675.01L1233.53 1644.75L1233.53 1631.55Z"/>
<rect x="1216.95" y="1347.5" width="2.9" height="43.75" fill="#000"/>
<rect x="1207.15" y="1346.05" width="22.5" height="2.9" fill="#000"/>
<rect x="1241.43" y="1402" width="46.06" height="242" fill="#000"/>
<rect x="1263.01" y="1375" width="2.9" height="27" fill="#000"/>
<rect x="1253.21" y="1373.55" width="22.5" height="2.9" fill="#000"/>
<rect x="1334.5" y="1232" width="46.06" height="412" fill="#000"/>
<rect x="1343.4" y="1240.9" width="28.26" height="403.1" fill="#fff"/>
<rect x="1356.08" y="1173" width="2.9" height="59" fill="#000"/>
<rect x="1346.28" y="1171.55" width="22.5" height="2.9" fill="#000"/>
<rect x="1380.56" y="1305.5" width="46.06" height="338.5" fill="#000"/>
<rect x="1389.46" y="1314.4" width="28.26" height="329.6" fill="#a0a0a0"/>
<rect x="1402.14" y="1262.5" width="2.9" height="43" fill="#000"/>
<rect x="1392.34" y="1261.05" width="22.5" height="2.9" fill="#000"/>
<rect x="1426.62" y="1376.25" width="46.06" height="267.75" fill="#000"/>
<path clip-path="url(#c8)" fill="#fff" d="M1434.52 1401.21L1434.52 1414.41L1464.78 1384.15L1464.78 1370.95ZM1434.52 1431.91L1434.52 1445.11L1464.78 1414.85L1464.78 1401.65ZM1434.52 1462.61L1434.52 1475.81L1464.78 1445.55L1464.78 1432.35ZM1434.52 1493.31L1434.52 1506.51L1464.78 1476.25L1464.78 1463.05ZM1434.52 1524.01L1434.52 1537.21L1464.78 1506.95L1464.78 1493.75ZM1434.52 1554.71L1434.52 1567.91L1464.78 1537.65L1464.78 1524.45ZM1434.52 1585.41L1434.52 1598.61L1464.78 1568.35L1464.78 1555.15ZM1434.52 1616.11L1434.52 1629.31L1464.78 1599.05L1464.78 1585.85ZM1434.52 1646.81L1434.52 1660.01L1464.78 1629.75L1464.78 1616.55Z"/>
<rect x="1448.2" y="1344.5" width="2.9" height="31.75" fill="#000"/>
<rect x="1438.4" y="1343.05" width="22.5" height="2.9" fill="#000"/>
<rect x="1472.68" y="1457" width="46.06" height="187" fill="#000"/>
<rect x="1494.26" y="1428.75" width="2.9" height="28.25" fill="#000"/>
<rect x="1484.46" y="1427.3" width="22.5" height="2.9" fill="#000"/>
<rect x="1566.25" y="1233.75" width="46.06" height="410.25" fill="#000"/>
<rect x="1575.15" y="1242.65" width="28.26" height="401.35" fill="#fff"/>
<rect x="1587.83" y="1180" width="2.9" height="53.75" fill="#000"/>
<rect x="1578.03" y="1178.55" width="22.5" height="2.9" fill="#000"/>
<rect x="1612.31" y="1240" width="46.06" height="404" fill="#000"/>
<rect x="1621.21" y="1248.9" width="28.26" height="395.1" fill="#a0a0a0"/>
<rect x="1633.89" y="1186.25" width="2.9" height="53.75" fill="#000"/>
<rect x="1624.09" y="1184.8" width="22.5" height="2.9" fill="#000"/>
<rect x="1658.37" y="1435.5" width="46.06" height="208.5" fill="#000"/>
<path clip-path="url(#c9)" fill="#fff" d="M1666.27 1460.46L1666.27 1473.66L1696.53 1443.4L1696.53 1430.2ZM1666.27 1491.16L1666.27 1504.36L1696.53 1474.1L1696.53 1460.9ZM1666.27 1521.86L1666.27 1535.06L1696.53 1504.8L1696.53 1491.6ZM1666.27 1552.56L1666.27 1565.76L1696.53 1535.5L1696.53 1522.3ZM1666.27 1583.26L1666.27 1596.46L1696.53 1566.2L1696.53 1553ZM1666.27 1613.96L1666.27 1627.16L1696.53 1596.9L1696.53 1583.7ZM1666.27 1644.66L1666.27 1657.86L1696.53 1627.6L1696.53 1614.4Z"/>
<rect x="1679.95" y="1405.3" width="2.9" height="30.2" fill="#000"/>
<rect x="1670.15" y="1403.85" width="22.5" height="2.9" fill="#000"/>
<rect x="1704.43" y="1406.8" width="46.06" height="237.2" fill="#000"/>
<rect x="1726.01" y="1376.7" width="2.9" height="30.1" fill="#000"/>
<rect x="1716.21" y="1375.25" width="22.5" height="2.9" fill="#000"/>
<rect x="1797.75" y="1232.5" width="46.06" height="411.5" fill="#000"/>
<rect x="1806.65" y="1241.4" width="28.26" height="402.6" fill="#fff"/>
<rect x="1819.33" y="1189.25" width="2.9" height="43.25" fill="#000"/>
<rect x="1809.53" y="1187.8" width="22.5" height="2.9" fill="#000"/>
<rect x="1843.81" y="1169.5" width="46.06" height="474.5" fill="#000"/>
<rect x="1852.71" y="1178.4" width="28.26" height="465.6" fill="#a0a0a0"/>
<rect x="1865.39" y="1099.25" width="2.9" height="70.25" fill="#000"/>
<rect x="1855.59" y="1097.8" width="22.5" height="2.9" fill="#000"/>
<rect x="1889.87" y="1375.75" width="46.06" height="268.25" fill="#000"/>
<path clip-path="url(#c10)" fill="#fff" d="M1897.77 1400.71L1897.77 1413.91L1928.03 1383.65L1928.03 1370.45ZM1897.77 1431.41L1897.77 1444.61L1928.03 1414.35L1928.03 1401.15ZM1897.77 1462.11L1897.77 1475.31L1928.03 1445.05L1928.03 1431.85ZM1897.77 1492.81L1897.77 1506.01L1928.03 1475.75L1928.03 1462.55ZM1897.77 1523.51L1897.77 1536.71L1928.03 1506.45L1928.03 1493.25ZM1897.77 1554.21L1897.77 1567.41L1928.03 1537.15L1928.03 1523.95ZM1897.77 1584.91L1897.77 1598.11L1928.03 1567.85L1928.03 1554.65ZM1897.77 1615.61L1897.77 1628.81L1928.03 1598.55L1928.03 1585.35ZM1897.77 1646.31L1897.77 1659.51L1928.03 1629.25L1928.03 1616.05Z"/>
<rect x="1911.45" y="1341.75" width="2.9" height="34" fill="#000"/>
<rect x="1901.65" y="1340.3" width="22.5" height="2.9" fill="#000"/>
<rect x="1935.93" y="1373" width="46.06" height="271" fill="#000"/>
<rect x="1957.51" y="1350.5" width="2.9" height="22.5" fill="#000"/>
<rect x="1947.71" y="1349.05" width="22.5" height="2.9" fill="#000"/>
<rect x="1076.95" y="1023" width="5.6" height="624" fill="#000"/>
<rect x="1053.75" y="1641" width="956.25" height="6" fill="#000"/>
<rect x="1053.75" y="1023.12" width="26" height="5.75" fill="#000"/>
<rect x="1053.75" y="1228.72" width="26" height="5.75" fill="#000"/>
<rect x="1053.75" y="1434.62" width="26" height="5.75" fill="#000"/>
<rect x="1192.38" y="1644" width="6.25" height="26" fill="#000"/>
<rect x="1423.62" y="1644" width="6.25" height="26" fill="#000"/>
<rect x="1655.38" y="1644" width="6.25" height="26" fill="#000"/>
<rect x="1886.88" y="1644" width="6.25" height="26" fill="#000"/>
<text transform="translate(976.78,1044.54) scale(0.9679,1)" font-family="Liberation Sans" font-weight="bold" font-size="52.16">1.5</text>
<text transform="translate(974.65,1250.33) scale(0.9695,1)" font-family="Liberation Sans" font-weight="bold" font-size="54.18">1.0</text>
<text transform="translate(975.89,1456.03) scale(0.9487,1)" font-family="Liberation Sans" font-weight="bold" font-size="53.90">0.5</text>
<text transform="translate(975.46,1663.62) scale(0.9559,1)" font-family="Liberation Sans" font-weight="bold" font-size="54.33">0.0</text>
<text transform="translate(1132.52,1733.21) scale(0.9795,1)" font-family="Liberation Sans" font-weight="bold" font-size="61.43">Ccl2</text>
<text transform="translate(1353.03,1733.19) scale(0.9383,1)" font-family="Liberation Sans" font-weight="bold" font-size="63.83">Cox2</text>
<text transform="translate(1624.34,1733.21) scale(0.9840,1)" font-family="Liberation Sans" font-weight="bold" font-size="61.43">Il6</text>
<text transform="translate(1793.75,1733.18) scale(0.8910,1)" font-family="Liberation Sans" font-weight="bold" font-size="64.75">Vcam1</text>
<text transform="translate(941.49,1614.52) rotate(-90) scale(1.0089,1)" font-family="Liberation Sans" font-weight="bold" font-size="58.02">Relative mRNA level</text>
<rect x="1161.25" y="1764.5" width="32.5" height="29.25" fill="#000"/>
<rect x="1165.25" y="1768.5" width="24.5" height="21.25" fill="#fff"/>
<rect x="1298.75" y="1764.5" width="32.5" height="29.25" fill="#000"/>
<rect x="1302.75" y="1768.5" width="24.5" height="21.25" fill="#bcbcbc"/>
<rect x="1543.5" y="1762" width="32.5" height="29.25" fill="#000"/>
<rect x="1547.5" y="1766" width="24.5" height="21.25" fill="#fff"/>
<line clip-path="url(#c11)" x1="1541.5" y1="1794.88" x2="1578" y2="1758.38" stroke="#000" stroke-width="7.5"/>
<rect x="1685.5" y="1762.5" width="33" height="29.25" fill="#000"/>
<text transform="translate(1206.61,1790.18) scale(0.9316,1)" font-family="Liberation Sans" font-weight="bold" font-size="36.17">Con</text>
<text transform="translate(1343.05,1789.67) scale(0.9357,1)" font-family="Liberation Sans" font-weight="bold" font-size="37.59">Con + IMC</text>
<text transform="translate(1589.85,1790.77) scale(0.9550,1)" font-family="Liberation Sans" font-weight="bold" font-size="37.82">Ade</text>
<text transform="translate(1731.86,1790.77) scale(0.9516,1)" font-family="Liberation Sans" font-weight="bold" font-size="37.82">Ade + IMC</text>
<rect x="1163" y="1004.2" width="103.9" height="3" fill="#000"/>
<rect x="1163" y="1004.2" width="3" height="41.5" fill="#000"/>
<rect x="1263.9" y="1004.2" width="3" height="44.3" fill="#000"/>
<text transform="translate(1177.03,1009.51) scale(0.9212,1)" x="0 30.83 61.66" font-family="DejaVu Sans" font-weight="bold" font-size="44.32">***</text>
<rect x="1112.25" y="1075.9" width="104.75" height="3" fill="#000"/>
<rect x="1112.25" y="1075.9" width="3" height="41.1" fill="#000"/>
<rect x="1214" y="1075.9" width="3" height="44.1" fill="#000"/>
<text transform="translate(1140.23,1081.41) scale(0.9212,1)" x="0 30.83" font-family="DejaVu Sans" font-weight="bold" font-size="44.32">**</text>
<rect x="1344" y="1124" width="105" height="3" fill="#000"/>
<rect x="1344" y="1124" width="3" height="42" fill="#000"/>
<rect x="1446" y="1124" width="3" height="44.75" fill="#000"/>
<text transform="translate(1384.93,1130.61) scale(0.9212,1)" x="0" font-family="DejaVu Sans" font-weight="bold" font-size="44.32">*</text>
<rect x="1393.5" y="1046" width="105" height="3" fill="#000"/>
<rect x="1393.5" y="1046" width="3" height="42" fill="#000"/>
<rect x="1495.5" y="1046" width="3" height="44.5" fill="#000"/>
<text transform="translate(1433.93,1052.61) scale(0.9212,1)" x="0" font-family="DejaVu Sans" font-weight="bold" font-size="44.32">*</text>
<rect x="1575.5" y="1124" width="104.25" height="3" fill="#000"/>
<rect x="1575.5" y="1124" width="3" height="42" fill="#000"/>
<rect x="1676.75" y="1124" width="3" height="44.75" fill="#000"/>
<text transform="translate(1603.88,1132.01) scale(0.9212,1)" x="0 30.83" font-family="DejaVu Sans" font-weight="bold" font-size="44.32">**</text>
<rect x="1624.75" y="1044.75" width="104.25" height="3" fill="#000"/>
<rect x="1624.75" y="1044.75" width="3" height="41.5" fill="#000"/>
<rect x="1726" y="1044.75" width="3" height="44.75" fill="#000"/>
<text transform="translate(1664.93,1051.71) scale(0.9212,1)" x="0" font-family="DejaVu Sans" font-weight="bold" font-size="44.32">*</text>
<rect x="1802" y="1077.25" width="104.5" height="3" fill="#000"/>
<rect x="1802" y="1077.25" width="3" height="41.5" fill="#000"/>
<rect x="1903.5" y="1077.25" width="3" height="44.75" fill="#000"/>
<text transform="translate(1842.33,1083.86) scale(0.9212,1)" x="0" font-family="DejaVu Sans" font-weight="bold" font-size="44.32">*</text>
<rect x="1849.5" y="1005.5" width="104.5" height="3" fill="#000"/>
<rect x="1849.5" y="1005.5" width="3" height="40.75" fill="#000"/>
<rect x="1951" y="1005.5" width="3" height="44" fill="#000"/>
<text transform="translate(1877.73,1012.01) scale(0.9212,1)" x="0 30.83" font-family="DejaVu Sans" font-weight="bold" font-size="44.32">**</text>
</svg>
</body></html>
